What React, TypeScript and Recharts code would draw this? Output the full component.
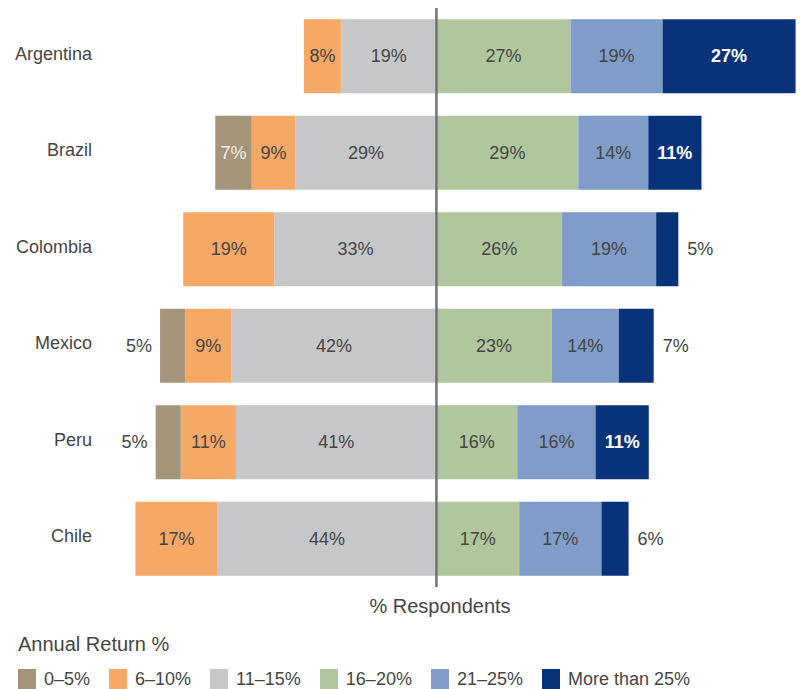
import { BarChart, Bar, XAxis, YAxis, ReferenceLine, LabelList } from "recharts";

const FONT = "'Liberation Sans', Helvetica, Arial, sans-serif";
const INK = "#454545";

const countries = ["Argentina", "Brazil", "Colombia", "Mexico", "Peru", "Chile"];

// left side of the center line (drawn as negative)
const r0to5 = [0, 7.4, 0, 5.1, 5.1, 0];
const r6to10 = [7.5, 8.9, 18.5, 9.4, 11.2, 16.7];
const r11to15 = [19.4, 28.6, 32.9, 41.6, 40.7, 44.4];
// right side
const r16to20 = [27.2, 28.8, 25.5, 23.4, 16.4, 16.8];
const r21to25 = [18.7, 14.2, 19.1, 13.6, 15.9, 16.7];
const r25plus = [27.0, 10.8, 4.5, 7.1, 10.8, 5.5];

// stack order: closest to the center line first
const SERIES = [
  { key: "r11to15", label: "11–15%", color: "#c6c7c9", text: INK, bold: false },
  { key: "r6to10", label: "6–10%", color: "#f6a866", text: INK, bold: false },
  { key: "r0to5", label: "0–5%", color: "#a3947a", text: "#f2eee8", bold: false },
  { key: "r16to20", label: "16–20%", color: "#b0c69c", text: INK, bold: false },
  { key: "r21to25", label: "21–25%", color: "#809dc9", text: INK, bold: false },
  { key: "r25plus", label: "More than 25%", color: "#083379", text: "#ffffff", bold: true },
];

const LEGEND_ORDER = ["r0to5", "r6to10", "r11to15", "r16to20", "r21to25", "r25plus"];

const data = countries.map((name, i) => ({
  name,
  r0to5: -r0to5[i],
  r6to10: -r6to10[i],
  r11to15: -r11to15[i],
  r16to20: r16to20[i],
  r21to25: r21to25[i],
  r25plus: r25plus[i],
}));

// inside label when the segment is wide enough, otherwise next to its outer end
function makeLabel(color: string, bold: boolean) {
  return (props: any) => {
    const { x, y, width, height, value } = props;
    if (!value) return null;
    const left = Math.min(x, x + width);
    const w = Math.abs(width);
    const cy = y + height / 2;
    const txt = Math.round(Math.abs(value)) + "%";
    if (w >= 36) {
      return (
        <text
          x={left + w / 2}
          y={cy}
          textAnchor="middle"
          dominantBaseline="central"
          fill={color}
          fontSize={18}
          fontWeight={bold ? 700 : 400}
          fontFamily={FONT}
        >
          {txt}
        </text>
      );
    }
    const outLeft = value < 0;
    return (
      <text
        x={outLeft ? left - 8 : left + w + 9}
        y={cy}
        textAnchor={outLeft ? "end" : "start"}
        dominantBaseline="central"
        fill={INK}
        fontSize={18}
        fontFamily={FONT}
      >
        {txt}
      </text>
    );
  };
}

export default function App() {
  return (
    <div
      style={{
        position: "absolute",
        left: 0,
        top: 0,
        width: 801,
        height: 689,
        background: "#fff",
        fontFamily: FONT,
        color: INK,
      }}
    >
      <BarChart
        width={801}
        height={689}
        data={data}
        layout="vertical"
        stackOffset="sign"
        barCategoryGap="11.6%"
        margin={{ top: 8, right: 0, bottom: 102, left: 0 }}
      >
        <XAxis type="number" domain={[-62, 74]} hide />
        <YAxis
          type="category"
          dataKey="name"
          width={131}
          axisLine={false}
          tickLine={false}
          tickSize={0}
          tickMargin={39}
          tick={{ fontSize: 18, fill: INK, fontFamily: FONT, dy: -3 }}
        />
        {SERIES.map((s) => (
          <Bar
            key={s.key}
            dataKey={s.key}
            stackId="a"
            fill={s.color}
            isAnimationActive={false}
          >
            <LabelList dataKey={s.key} content={makeLabel(s.text, s.bold)} />
          </Bar>
        ))}
        <ReferenceLine x={0} stroke="#727276" strokeWidth={2.5} />
      </BarChart>

      <div
        style={{
          position: "absolute",
          left: 440,
          top: 595,
          transform: "translateX(-50%)",
          fontSize: 20,
          whiteSpace: "nowrap",
        }}
      >
        % Respondents
      </div>
      <div style={{ position: "absolute", left: 18, top: 633, fontSize: 20 }}>
        Annual Return %
      </div>
      <div
        style={{
          position: "absolute",
          left: 18,
          top: 669,
          display: "flex",
          alignItems: "center",
          fontSize: 18,
          whiteSpace: "nowrap",
        }}
      >
        {LEGEND_ORDER.map((k) => {
          const s = SERIES.find((x) => x.key === k)!;
          return (
            <div key={k} style={{ display: "flex", alignItems: "center", marginRight: 19 }}>
              <div style={{ width: 18, height: 21, background: s.color, marginRight: 8 }} />
              <span>{s.label}</span>
            </div>
          );
        })}
      </div>
    </div>
  );
}
